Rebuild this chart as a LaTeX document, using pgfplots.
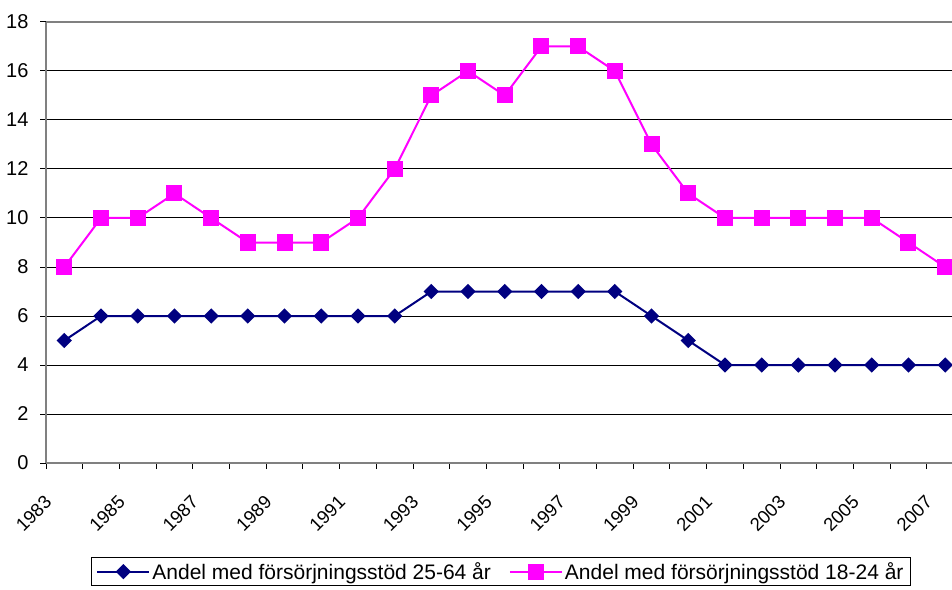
\documentclass[border=0pt]{standalone}
\usepackage{fontspec}
\setmainfont{Liberation Sans}
\usepackage{pgfplots}
\pgfplotsset{compat=1.18}
\definecolor{navy}{HTML}{000080}
\definecolor{mag}{HTML}{FF00FF}
\definecolor{axgray}{HTML}{808080}

\pgfplotstableread{
idx young adult
0  8  5
1  10 6
2  10 6
3  11 6
4  10 6
5  9  6
6  9  6
7  9  6
8  10 6
9  12 6
10 15 7
11 16 7
12 15 7
13 17 7
14 17 7
15 16 7
16 13 6
17 11 5
18 10 4
19 10 4
20 10 4
21 10 4
22 10 4
23 9  4
24 8  4
}\datatable

\begin{document}
\begin{tikzpicture}
\begin{axis}[
  scale only axis, width=917.5pt, height=441pt,
  xmin=-0.5, xmax=24.5, ymin=0, ymax=18,
  axis x line*=bottom, axis y line*=left,
  axis line style={draw=axgray, line width=2pt, -},
  clip=false,
  /pgf/number format/assume math mode=true,
  tick label style={font=\fontsize{20}{22}\selectfont},
  xtick={-0.5,0.5,...,24.5}, xticklabels={},
  ytick={0,2,...,18},
  tick align=outside, major tick length=6pt,
  tick style={black, line width=1pt},
  ymajorgrids, grid style={black, line width=1pt},
  yticklabel style={anchor=east, xshift=-8pt},
  extra x ticks={0,2,...,24},
  extra x tick labels={1983,1985,1987,1989,1991,1993,1995,1997,1999,2001,2003,2005,2007},
  extra x tick style={major tick length=0pt, grid=none,
    xticklabel style={font=\fontsize{18.5}{20}\selectfont, xshift=-16pt, yshift=-36pt, rotate=45, anchor=east, inner sep=0pt}},
  legend columns=2,
  legend style={at={(0.049,-0.213)}, anchor=north west, draw=black, line width=1pt,
    font=\fontsize{21}{23}\selectfont, inner xsep=5pt, inner ysep=3pt,
    /tikz/every even column/.append style={column sep=16pt}},
  legend image code/.code={\draw[mark repeat=2, mark phase=2] plot coordinates {(0pt,0pt) (26pt,0pt) (52pt,0pt)};},
]
\addplot[navy, line width=2pt, mark=square*, mark size=4.4pt, mark options={rotate=45, solid, fill=navy}] table[x=idx, y=adult] {\datatable};
\addlegendentry{Andel med försörjningsstöd 25-64 år}
\addplot[mag, line width=2pt, mark=square*, mark size=7pt, mark options={solid, fill=mag}] table[x=idx, y=young] {\datatable};
\addlegendentry{Andel med försörjningsstöd 18-24 år}
\draw[axgray, line width=2pt] (axis cs:-0.5,18) -- (axis cs:24.5,18);
\end{axis}
\pgfresetboundingbox
\path (-46pt,-126pt) rectangle (906pt,463pt);
\end{tikzpicture}
\end{document}
